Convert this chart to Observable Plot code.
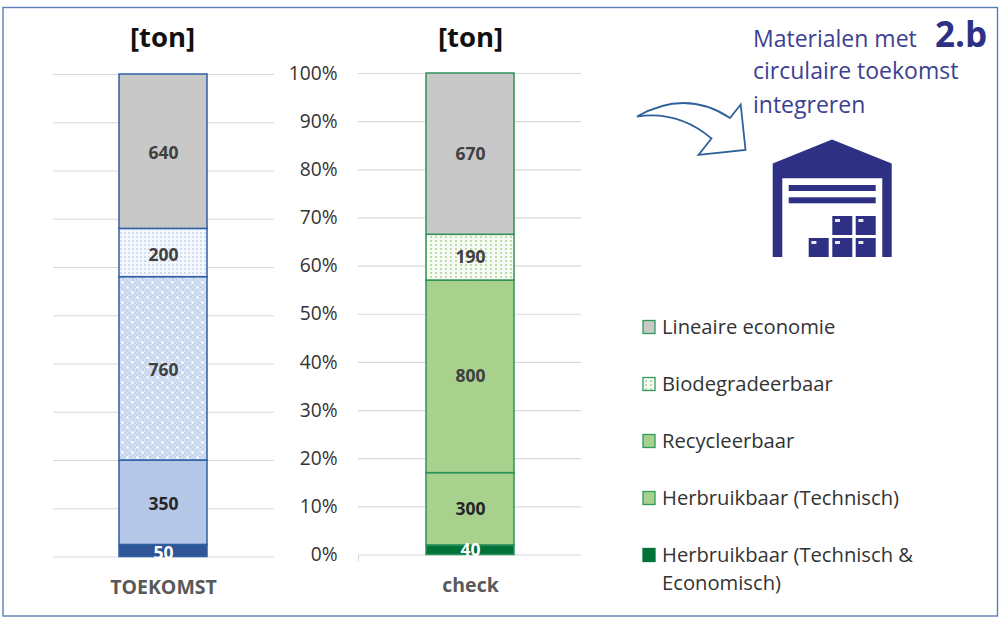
<!DOCTYPE html>
<html lang="nl">
<head>
<meta charset="utf-8">
<script src="https://cdn.jsdelivr.net/npm/d3@7"></script>
<script src="https://cdn.jsdelivr.net/npm/@observablehq/plot@0.6"></script>
<style>
  html, body { margin: 0; background: #fff; }
  #stage { position: relative; width: 1003px; height: 619px; overflow: hidden; background: #fff;
           font-family: "Open Sans", "Noto Sans", sans-serif; }
  #stage > svg { position: absolute; left: 0; top: 0; background: transparent; }
</style>
</head>
<body>
<div id="stage"></div>
<script>
// Material streams, bottom to top of each stacked column
const series = ["Herbruikbaar (Technisch & Economisch)", "Herbruikbaar (Technisch)", "Recycleerbaar", "Biodegradeerbaar", "Lineaire economie"];
const toekomstTon = [50, 350, 760, 200, 640];
const checkTon = [40, 300, 800, 190, 670];
const toekomstFills = ["#2f5597", "#b4c7e7", "url(#dotsDense)", "url(#dotsBlue)", "#c8c8c8"];
const checkFills = ["#00733a", "#a9d18e", "#a9d18e", "url(#dotsGreen)", "#c8c8c8"];
const toekomstLabelColors = ["#ffffff", "#262626", "#404040", "#404040", "#404040"];
const checkLabelColors = ["#ffffff", "#262626", "#404040", "#404040", "#404040"];
const percentTicks = d3.range(0, 1.01, 0.1);

const W = 1003, H = 619;
const stage = d3.select("#stage");

// Shared patterns, frame, headings, icons and legend
const deco = stage.append("svg").attr("width", W).attr("height", H).attr("viewBox", `0 0 ${W} ${H}`);
const defs = deco.append("defs");

const dotsBlue = defs.append("pattern").attr("id", "dotsBlue").attr("patternUnits", "userSpaceOnUse").attr("width", 4).attr("height", 4);
dotsBlue.append("rect").attr("width", 4).attr("height", 4).attr("fill", "#f5f8fc");
dotsBlue.append("rect").attr("width", 2).attr("height", 2).attr("fill", "#d0dcf1");

const dotsDense = defs.append("pattern").attr("id", "dotsDense").attr("patternUnits", "userSpaceOnUse").attr("width", 10).attr("height", 10);
dotsDense.append("rect").attr("width", 10).attr("height", 10).attr("fill", "#c6d5ee");
[[0, 0], [4, 0], [8, 0], [2, 2], [6, 2], [0, 4], [4, 4], [8, 4], [2, 6], [6, 6], [0, 8], [4, 8], [8, 8]].forEach(([x, y]) => {
  dotsDense.append("rect").attr("x", x).attr("y", y).attr("width", 2).attr("height", 2).attr("fill", "#d5e0f3");
});
[[2.5, 2.5], [7.5, 7.5]].forEach(([x, y]) => {
  dotsDense.append("rect").attr("x", x - 1.5).attr("y", y - 0.5).attr("width", 3).attr("height", 1).attr("fill", "#fff");
  dotsDense.append("rect").attr("x", x - 0.5).attr("y", y - 1.5).attr("width", 1).attr("height", 3).attr("fill", "#fff");
});

const dotsGreen = defs.append("pattern").attr("id", "dotsGreen").attr("patternUnits", "userSpaceOnUse").attr("width", 5).attr("height", 4);
dotsGreen.append("rect").attr("width", 5).attr("height", 4).attr("fill", "#f8fbf5");
dotsGreen.append("rect").attr("width", 2).attr("height", 2).attr("fill", "#bcdca8");

deco.append("rect").attr("x", 3).attr("y", 7.5).attr("width", 994.5).attr("height", 608.5)
  .attr("fill", "#fff").attr("stroke", "#5a7fb4").attr("stroke-width", 1.4);

[[162.5, "[ton]"], [470.5, "[ton]"]].forEach(([x, t]) => {
  deco.append("text").attr("x", x).attr("y", 47).attr("text-anchor", "middle")
    .attr("font-size", 27.5).attr("font-weight", 700).attr("fill", "#111").text(t);
});

const ink = "#2e3083";
[["Materialen met", 47], ["circulaire toekomst", 79], ["integreren", 113]].forEach(([t, y]) => {
  deco.append("text").attr("x", 753).attr("y", y).attr("font-size", 23).attr("fill", "#3d4191").text(t);
});
deco.append("text").attr("x", 935).attr("y", 47).attr("font-size", 35).attr("font-weight", 700).attr("fill", ink).text("2.b");

// Curved arrow pointing at the warehouse
deco.append("path")
  .attr("d", "M637 116.5 C668 99 700 98 730 118 L740.7 104.5 L745.5 150 L698.5 155 L711.5 138.5 C692 122 668 112 637 116.5 Z")
  .attr("fill", "#fff").attr("stroke", "#2f6299").attr("stroke-width", 1.8).attr("stroke-linejoin", "miter");

// Warehouse icon
deco.append("path")
  .attr("d", "M772.7 163.5 L832 139.5 L891.7 163.5 L891.7 257 L882.3 257 L882.3 178.3 L782.3 178.3 L782.3 257 L772.7 257 Z")
  .attr("fill", ink);
[185, 197.3].forEach(y => deco.append("rect").attr("x", 788.7).attr("y", y).attr("width", 87).attr("height", 6).attr("fill", ink));
[[832.3, 216], [855.7, 216], [808.7, 238], [832.3, 238], [855.7, 238]].forEach(([x, y]) => {
  deco.append("rect").attr("x", x).attr("y", y).attr("width", 20).attr("height", 19).attr("fill", ink);
  deco.append("rect").attr("x", x + 2.7).attr("y", y + 3).attr("width", 5).attr("height", 3).attr("fill", "#e8e8f2");
});

// Legend, top to bottom
const legend = [
  {fill: "#c8c8c8", stroke: "#2e9b5c", y: 327, lines: ["Lineaire economie"]},
  {fill: "url(#dotsGreen)", stroke: "#2e9b5c", y: 384, lines: ["Biodegradeerbaar"]},
  {fill: "#a9d18e", stroke: "#2e9b5c", y: 441, lines: ["Recycleerbaar"]},
  {fill: "#a9d18e", stroke: "#2e9b5c", y: 498, lines: ["Herbruikbaar (Technisch)"]},
  {fill: "#00733a", stroke: "#00733a", y: 555, lines: ["Herbruikbaar (Technisch &", "Economisch)"]}
];
legend.forEach(d => {
  deco.append("rect").attr("x", 643).attr("y", d.y - 6.5).attr("width", 12).attr("height", 13)
    .attr("fill", d.fill).attr("stroke", d.stroke).attr("stroke-width", 1.3);
  d.lines.forEach((t, i) => deco.append("text").attr("x", 662).attr("y", d.y + 6.5 + i * 28.5)
    .attr("font-size", 20.2).attr("fill", "#333").text(t));
});

// Small end tick on the second chart's baseline
deco.append("line").attr("x1", 358.5).attr("x2", 358.5).attr("y1", 555).attr("y2", 561.5).attr("stroke", "#d9d9d9").attr("stroke-width", 1.2);

function stackedColumn({name, values, fills, labelColors, x0, x1, yTop, yBottom, barStroke, paddingOuter, align, labelDy, showPercent}) {
  const rows = series.map((s, i) => ({column: name, series: s, ton: values[i], labelColor: labelColors[i]}));
  const stack = o => Plot.stackY({x: "column", y: "ton", offset: "normalize", order: null, ...o});
  return Plot.plot({
    width: W, height: H,
    marginLeft: x0, marginRight: W - x1, marginTop: yTop, marginBottom: H - yBottom,
    style: {background: "transparent", fontFamily: "\"Open Sans\", \"Noto Sans\", sans-serif"},
    x: {domain: [name], paddingInner: 0, paddingOuter, align, label: null},
    y: {domain: [0, 1], label: null},
    color: {domain: series, range: fills},
    marks: [
      Plot.gridY(percentTicks, {stroke: "#d9d9d9", strokeOpacity: 1, strokeWidth: 1.2}),
      Plot.barY(rows, stack({fill: "series", stroke: barStroke, strokeWidth: 1.5})),
      Plot.text(rows, stack({
        text: d => d.ton, fill: {value: d => d.labelColor, scale: null},
        fontSize: 17.5, fontWeight: 700, dy: labelDy
      })),
      Plot.axisX({tickSize: 0, tickPadding: 23, fontSize: 19.5, fontWeight: 700, fill: "#595959", label: null}),
      showPercent
        ? Plot.axisY(percentTicks, {anchor: "left", tickSize: 0, tickPadding: 21, tickFormat: d3.format(".0%"), fontSize: 19.2, fill: "#333", label: null})
        : Plot.axisY([], {label: null})
    ]
  });
}

stage.append(() => stackedColumn({
  name: "TOEKOMST", values: toekomstTon, fills: toekomstFills, labelColors: toekomstLabelColors,
  x0: 53, x1: 274, yTop: 74, yBottom: 556.5, barStroke: "#2f5fa5", paddingOuter: 0.749, align: 0.494, labelDy: 2, showPercent: false
}));
stage.append(() => stackedColumn({
  name: "check", values: checkTon, fills: checkFills, labelColors: checkLabelColors,
  x0: 358, x1: 581, yTop: 73, yBottom: 554.5, barStroke: "#2e9159", paddingOuter: 0.767, align: 0.504, labelDy: 0, showPercent: true
}));
</script>
</body>
</html>
